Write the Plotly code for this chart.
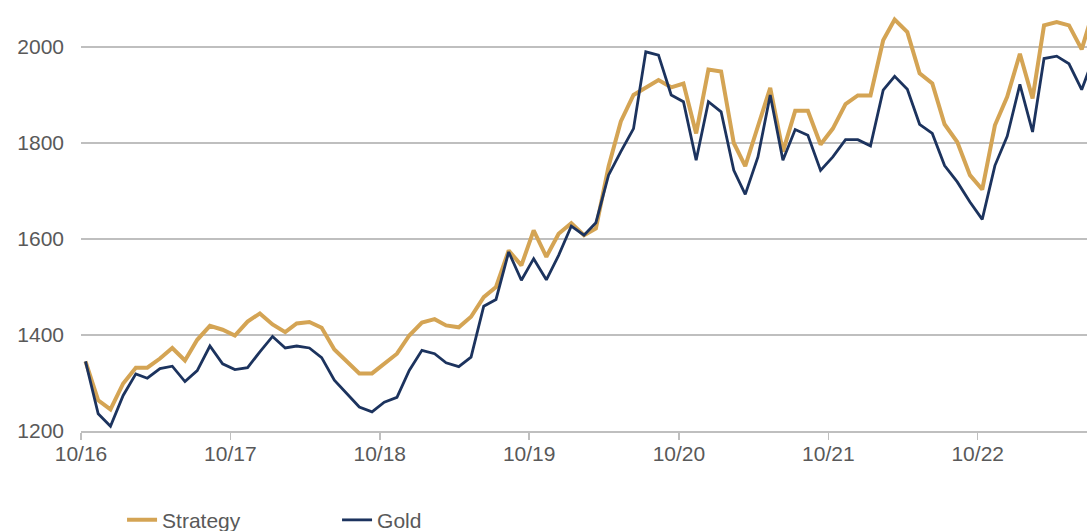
import pandas as pd
import plotly.graph_objects as go

# ---- data (monthly) ----
start_date = "2016-10-12"
strategy = [1345, 1264, 1245, 1299, 1332, 1332, 1351, 1373, 1347, 1390, 1419, 1411,
            1399, 1428, 1445, 1422, 1406, 1424, 1427, 1415, 1370, 1344, 1320, 1320,
            1340, 1361, 1399, 1426, 1433, 1420, 1416, 1438, 1479, 1500, 1576, 1545,
            1618, 1563, 1611, 1633, 1608, 1622, 1751, 1845, 1900, 1916, 1931, 1916,
            1924, 1820, 1953, 1949, 1800, 1752, 1834, 1915, 1782, 1867, 1867, 1797,
            1830, 1881, 1899, 1899, 2014, 2057, 2031, 1945, 1924, 1839, 1802, 1733,
            1703, 1837, 1896, 1986, 1893, 2045, 2052, 2045, 1995, 2080]
gold = [1345, 1236, 1210, 1274, 1319, 1310, 1330, 1335, 1303, 1326, 1377, 1340,
        1328, 1332, 1365, 1397, 1373, 1377, 1373, 1353, 1306, 1278, 1250, 1240,
        1260, 1270, 1326, 1368, 1361, 1342, 1334, 1354, 1460, 1474, 1573, 1514,
        1559, 1515, 1566, 1627, 1608, 1634, 1733, 1782, 1830, 1990, 1983, 1900,
        1886, 1764, 1886, 1865, 1743, 1693, 1771, 1900, 1764, 1828, 1816, 1743,
        1771, 1807, 1807, 1794, 1910, 1939, 1912, 1839, 1820, 1753, 1719, 1677,
        1641, 1753, 1814, 1922, 1823, 1976, 1981, 1965, 1911, 1980]
dates = pd.date_range(start=start_date, periods=len(strategy), freq=pd.DateOffset(months=1))

tick_dates = ["2016-10-01", "2017-10-01", "2018-10-01", "2019-10-01",
              "2020-10-01", "2021-10-01", "2022-10-01"]
tick_labels = ["10/16", "10/17", "10/18", "10/19", "10/20", "10/21", "10/22"]
y_ticks = [1200, 1400, 1600, 1800, 2000]

STRAT_COLOR = "#D4A454"
GOLD_COLOR = "#1C335E"
GRID = "#BFBFBF"
TEXT = "#595959"

fig = go.Figure()
fig.add_trace(go.Scatter(x=dates, y=strategy, mode="lines", name="Strategy",
                         line=dict(color=STRAT_COLOR, width=4)))
fig.add_trace(go.Scatter(x=dates, y=gold, mode="lines", name="Gold",
                         line=dict(color=GOLD_COLOR, width=2.8)))

fig.update_layout(
    width=1087, height=531,
    margin=dict(l=81, r=0, t=0, b=100, pad=0, autoexpand=False),
    plot_bgcolor="white", paper_bgcolor="white",
    font=dict(family="Liberation Sans, Arial, sans-serif", size=21, color=TEXT),
    showlegend=True,
    hovermode=False,
    legend=dict(orientation="h", x=0.0408, xanchor="left", y=-0.207, yanchor="middle",
                font=dict(size=21, color=TEXT), entrywidth=170, entrywidthmode="pixels",
                bgcolor="rgba(0,0,0,0)", itemclick=False),
    xaxis=dict(type="date", range=["2016-10-01", "2023-06-25"],
               tickvals=tick_dates, ticktext=tick_labels,
               showgrid=False, zeroline=False,
               showline=True, linecolor=GRID, linewidth=1.5,
               ticks="outside", ticklen=7, tickwidth=1.5, tickcolor=GRID,
               ticklabelstandoff=-4,
               tickfont=dict(size=21, color=TEXT)),
    yaxis=dict(range=[1200, 1200 + 431 / 0.48], tickvals=y_ticks,
               showgrid=True, gridcolor=GRID, gridwidth=1.5,
               zeroline=False, showline=False, ticks="",
               ticklabelstandoff=16,
               tickfont=dict(size=21, color=TEXT)),
)

fig.write_html(
    "out.html",
    config={"displayModeBar": False, "staticPlot": True},
    post_script="document.body.style.margin='0';document.body.style.overflow='hidden';",
)
